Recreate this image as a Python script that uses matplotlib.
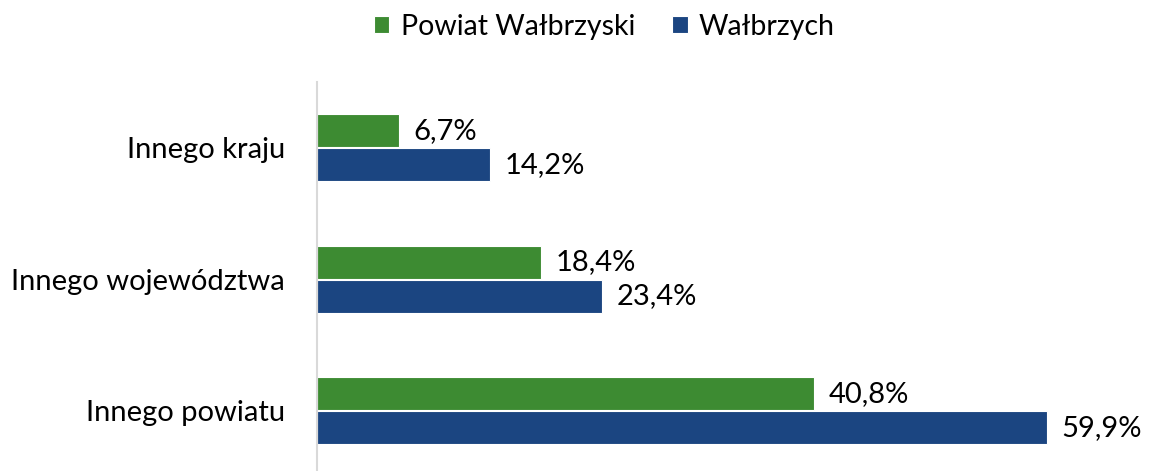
import matplotlib
matplotlib.use("Agg")
import matplotlib.pyplot as plt
import numpy as np

plt.rcParams['font.family'] = ['Lato', 'DejaVu Sans']

categories = ['Innego powiatu', 'Innego województwa', 'Innego kraju']
powiat = [40.8, 18.4, 6.7]
walbrzych = [59.9, 23.4, 14.2]
series_names = ['Powiat Wałbrzyski', 'Wałbrzych']

green = '#3D8B32'
blue = '#1B4581'

W, H = 1151, 471
fig = plt.figure(figsize=(W/100, H/100), dpi=100)
left, right, top, bottom = 317, 1100, 82, 471
ax = fig.add_axes([left/W, 1-bottom/H, (right-left)/W, (bottom-top)/H])

y = np.arange(len(categories))
h = 0.25
off = 0.129
b1 = ax.barh(y + off, powiat, height=h, color=green, edgecolor='white', linewidth=0.8, label=series_names[0])
b2 = ax.barh(y - off, walbrzych, height=h, color=blue, edgecolor='white', linewidth=0.8, label=series_names[1])

for bars, vals in [(b1, powiat), (b2, walbrzych)]:
    for r, v in zip(bars, vals):
        ax.text(r.get_width() + 1.2, r.get_y() + r.get_height()/2,
                ('%.1f%%' % v).replace('.', ','), va='center', ha='left', fontsize=21)

ax.set_xlim(0, (right-left)/12.19)
ax.set_ylim(-0.458, 2.5)
ax.set_yticks(y)
ax.set_yticklabels(categories, fontsize=21)
ax.tick_params(axis='y', length=0, pad=23)
ax.set_xticks([])
for s in ['top', 'right', 'bottom']:
    ax.spines[s].set_visible(False)
ax.spines['left'].set_color('#D9D9D9')
ax.spines['left'].set_linewidth(1.5)

fig.legend(handles=[b1, b2], loc='upper center', bbox_to_anchor=(0.525, 1.025), ncol=2,
           frameon=False, fontsize=20.5, handlelength=0.55, handleheight=0.55,
           handletextpad=0.4, columnspacing=1.3)

fig.savefig('out.png', dpi=100)
